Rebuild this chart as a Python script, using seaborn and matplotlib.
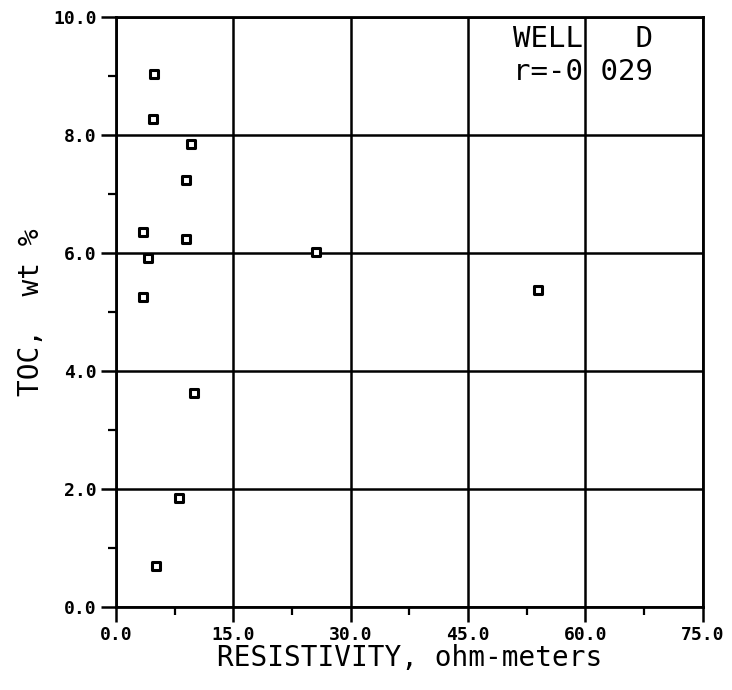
import matplotlib
matplotlib.use("Agg")
import matplotlib.pyplot as plt
from matplotlib.ticker import MultipleLocator, FormatStrFormatter
import seaborn as sns
import pandas as pd

# Well D: resistivity vs total organic carbon
resistivity = [4.8, 4.7, 9.6, 9.0, 3.4, 8.9, 4.1, 3.4, 25.6, 54.0, 10.0, 8.0, 5.1]
toc = [9.03, 8.27, 7.85, 7.24, 6.35, 6.24, 5.92, 5.25, 6.02, 5.38, 3.62, 1.84, 0.70]
well_name = "WELL   D"
corr_label = "r=-0 029"

df = pd.DataFrame({"resistivity": resistivity, "toc": toc})

sns.set_theme(style="white")
plt.rcParams["font.family"] = ["DejaVu Sans Mono", "DejaVu Sans"]

fig = plt.figure(figsize=(7.32, 6.90), dpi=100)
ax = fig.add_axes([0.1585, 0.1203, 0.8015, 0.8551])

sns.scatterplot(data=df, x="resistivity", y="toc", ax=ax, marker="s", s=26,
                facecolor="white", edgecolor="black", linewidth=2.2, zorder=5)

ax.set_xlim(0, 75)
ax.set_ylim(0, 10)
ax.xaxis.set_major_locator(MultipleLocator(15))
ax.xaxis.set_minor_locator(MultipleLocator(7.5))
ax.yaxis.set_major_locator(MultipleLocator(2))
ax.yaxis.set_minor_locator(MultipleLocator(1))
ax.xaxis.set_major_formatter(FormatStrFormatter("%.1f"))
ax.yaxis.set_major_formatter(FormatStrFormatter("%.1f"))

ax.grid(True, which="major", color="black", linewidth=1.8)
for s in ax.spines.values():
    s.set_color("black")
    s.set_linewidth(2.0)

ax.tick_params(which="major", direction="out", length=11, width=1.8,
               color="black", labelsize=13, pad=3,
               bottom=True, left=True)
ax.tick_params(which="minor", direction="out", length=6, width=1.6,
               color="black", bottom=True, left=True)
for lab in ax.get_xticklabels() + ax.get_yticklabels():
    lab.set_fontweight("bold")
    lab.set_color("black")

ax.set_xlabel("RESISTIVITY, ohm-meters", fontsize=20, color="black", labelpad=0)
ax.set_ylabel("TOC,  wt %", fontsize=20, color="black", labelpad=6)

ax.text(50.8, 9.62, well_name, fontsize=21, color="black", va="center", ha="left")
ax.text(50.8, 9.06, corr_label, fontsize=21, color="black", va="center", ha="left")

fig.savefig("out.png", dpi=100, facecolor="white")
